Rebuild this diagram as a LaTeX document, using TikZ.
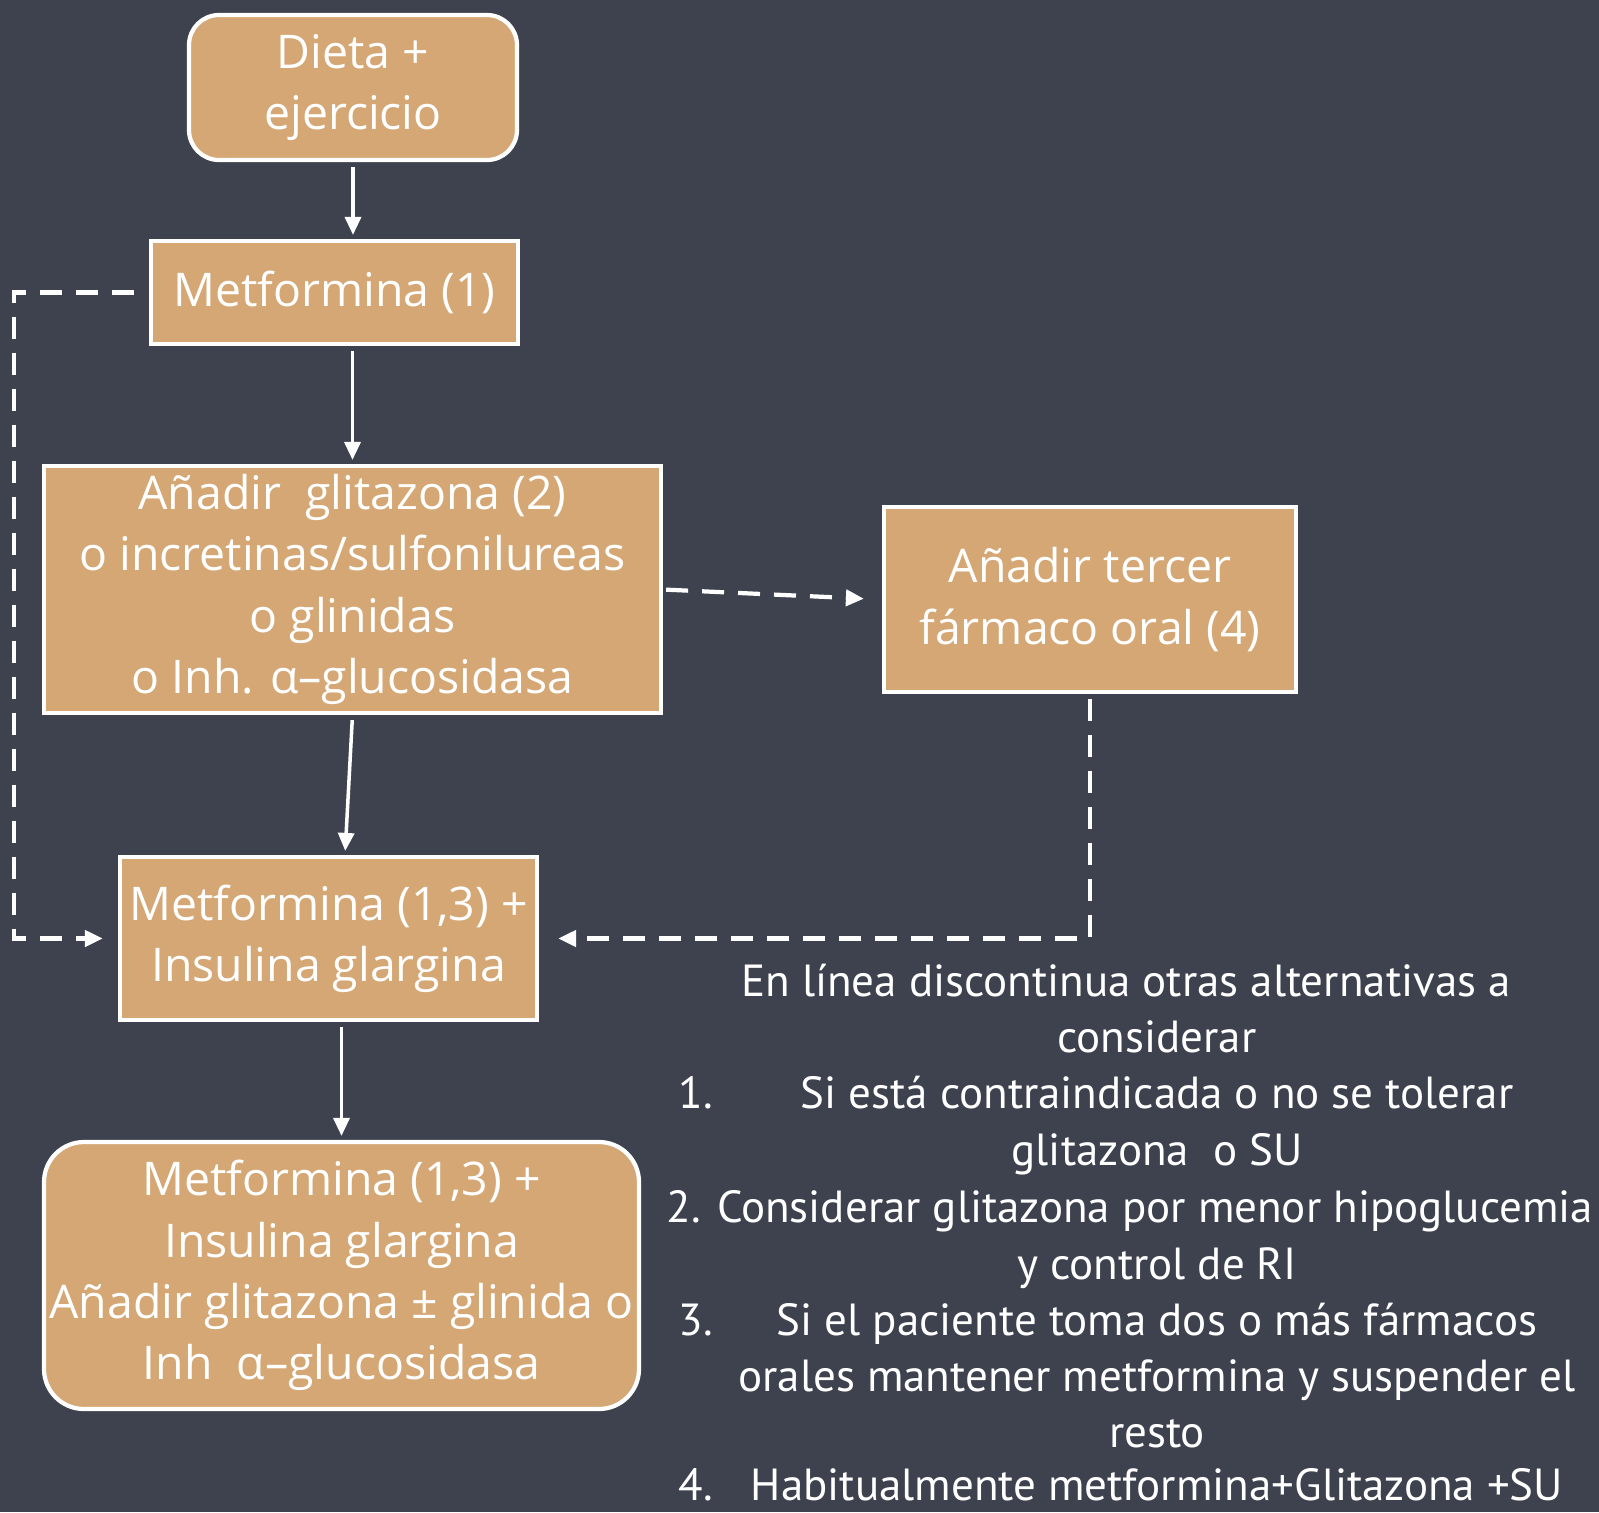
\documentclass[tikz,border=0pt]{standalone}
\usepackage{fontspec}
\setmainfont{Open Sans}
\newfontfamily\notefont{PT Sans}
\usetikzlibrary{arrows.meta}
\definecolor{boardBg}{RGB}{61,66,78}
\definecolor{kraft}{RGB}{212,167,117}

\begin{document}
\begin{tikzpicture}[font=\fontsize{13.2}{17.4}\selectfont,
  bx/.style={draw=white,line width=1.2pt,fill=kraft,text=white,align=center,inner sep=0pt},
  rbx/.style={bx,rounded corners=0.3cm},
  note/.style={text=white,font=\notefont\fontsize{12.8}{16}\selectfont,anchor=base,inner sep=0pt},
  num/.style={note,anchor=base west},
  arr/.style={draw=white,line width=1pt,-{Triangle[length=0.18cm,width=0.16cm]}},
  dsh/.style={arr,line width=1.2pt,dash pattern=on 0.22cm off 0.14cm}]
\useasboundingbox (0,0) rectangle (15.99,-15.12);
\fill[boardBg] (0,0) rectangle (15.99,-15.12);
% main path
\node[rbx,minimum width=3.28cm,minimum height=1.45cm] (diet) at (3.53,-0.875) {Dieta +\\ejercicio};
\node[bx,minimum width=3.67cm,minimum height=1.03cm] (met) at (3.345,-2.925) {Metformina (1)};
\node[bx,minimum width=6.17cm,minimum height=2.47cm] (add2) at (3.525,-5.895) {Añadir\ \ glitazona (2)\\o incretinas/sulfonilureas\\o glinidas\\o Inh. α–glucosidasa};
\node[bx,minimum width=4.17cm,minimum height=1.63cm] (metins) at (3.285,-9.385) {Metformina (1,3) +\\Insulina glargina};
\node[rbx,rounded corners=0.4cm,minimum width=5.95cm,minimum height=2.67cm] (final) at (3.415,-12.755) {Metformina (1,3) +\\Insulina glargina\\Añadir glitazona ± glinida o\\Inh\ \ α–glucosidasa};
% side branch
\node[bx,minimum width=4.12cm,minimum height=1.85cm] (third) at (10.9,-5.995) {Añadir tercer\\fármaco oral (4)};
\draw[arr,shorten <=0.05cm,shorten >=0.04cm] (diet.south) -- (diet.south |- met.north);
\draw[arr,shorten <=0.05cm,shorten >=0.04cm] (met.south -| add2.north) -- (add2.north);
\draw[arr,shorten <=0.05cm,shorten >=0.04cm] (add2.south) -- ([xshift=0.165cm]metins.north);
\draw[arr,shorten <=0.05cm,shorten >=0.04cm] (metins.south -| final.north) -- (final.north);
% alternatives
\coordinate (lrail) at (0.14,-6);
\draw[dsh,shorten <=0.15cm,shorten >=0.15cm] (met.west) -| (lrail) |- (metins.west);
\draw[dsh,shorten <=0.03cm,shorten >=0.18cm] (add2.east) -- (third.west);
\draw[dsh,shorten <=0.05cm,shorten >=0.19cm] (third.south) |- (metins.east);
% notes
\node[note] (intro1) at (11.26,-9.96) {En línea discontinua otras alternativas a};
\node[note] (intro2) at (11.57,-10.52) {considerar};
\node[num] (k1) at (6.78,-11.08) {1.};
\node[note] (item1a) at (11.57,-11.08) {Si está contraindicada o no se tolerar};
\node[note] (item1b) at (11.57,-11.65) {glitazona\ \ o SU};
\node[note] (item2a) at (11.30,-12.22) {2. Considerar glitazona por menor hipoglucemia};
\node[note] (item2b) at (11.57,-12.79) {y control de RI};
\node[num] (k3) at (6.78,-13.35) {3.};
\node[note] (item3a) at (11.57,-13.35) {Si el paciente toma dos o más fármacos};
\node[note] (item3b) at (11.57,-13.91) {orales mantener metformina y suspender el};
\node[note] (item3c) at (11.57,-14.47) {resto};
\node[num] (k4) at (6.78,-15.00) {4.};
\node[note] (item4a) at (11.57,-15.00) {Habitualmente metformina+Glitazona +SU};
\end{tikzpicture}
\end{document}
